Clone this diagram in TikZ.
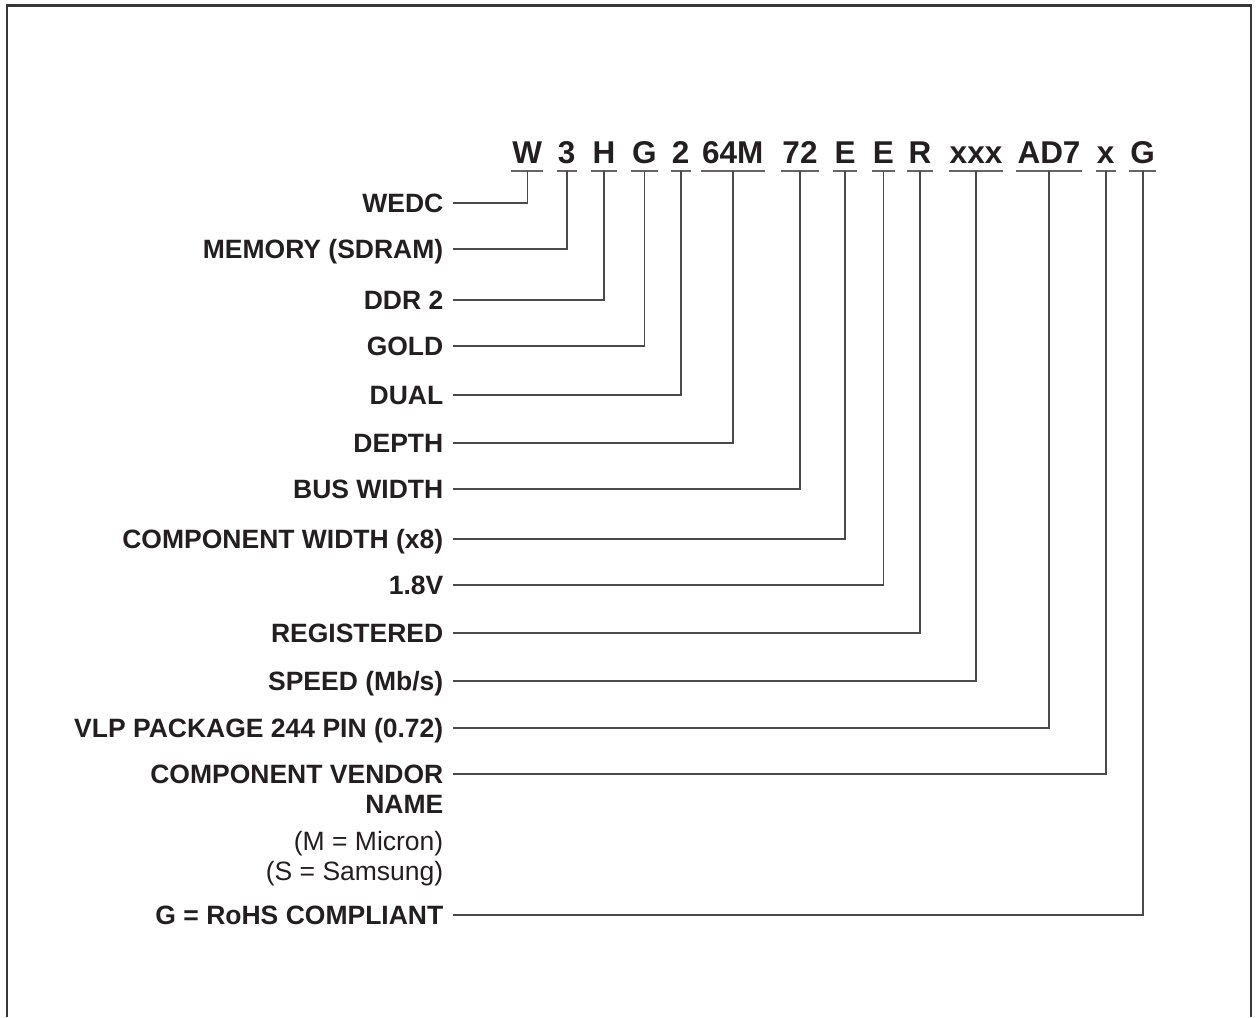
\documentclass[tikz,border=0pt]{standalone}
\usepackage{fontspec}
\setmainfont{Liberation Sans}
\usepackage{tikz}
\usetikzlibrary{positioning,calc}
\usepackage{xcolor}
\definecolor{ink}{HTML}{231F20}
\definecolor{wire}{HTML}{4A4A4A}

\tikzset{
  code/.style={font=\fontsize{31.5}{36}\selectfont\bfseries,text=ink,anchor=base,
    inner xsep=1pt,inner ysep=0pt,text depth=0pt},
  lbl/.style={font=\fontsize{26.5}{30}\selectfont\bfseries,text=ink,anchor=east,
    inner sep=0pt,text height=19pt,text depth=0pt},
  note/.style={font=\fontsize{26.5}{30}\selectfont,text=ink,anchor=base east,inner sep=0pt},
  uline/.style={draw=wire!85,line width=1.9pt},
  conn/.style={draw=wire,line width=1.6pt},
}

\begin{document}
\begin{tikzpicture}[x=1pt,y=-1pt]
\useasboundingbox (0,0) rectangle (1257,1017);
\draw[line width=2.3pt,draw=ink!90] (6.7,1017) |- (1251,5.5) -- (1251,1017);

% part number, one node per field
\foreach \t/\x [count=\i] in {W/527.3,3/566.7,H/604,G/644.3,2/680.7,64M/732.7,72/800,
    E/845,E/883.3,R/920,xxx/976,AD7/1049,x/1105.7,G/1142.7}{
  \node[code] (c\i) at (\x,163) {\t};
  \draw[uline] ([yshift=-7.5pt]c\i.south west) -- ([yshift=-7.5pt]c\i.south east);
}

% field names
\foreach \t/\y [count=\i] in {WEDC/203,MEMORY (SDRAM)/249,DDR 2/300,GOLD/346,DUAL/395,
    DEPTH/443,BUS WIDTH/489,COMPONENT WIDTH (x8)/539,1.8V/585,REGISTERED/633,
    {SPEED (Mb/s)}/681,VLP PACKAGE 244 PIN (0.72)/728,COMPONENT VENDOR/774,
    G = RoHS COMPLIANT/915}{
  \node[lbl] (l\i) at (443.5,\y) {\t};
  \draw[conn] ([xshift=9.5pt]l\i.east) -| ([yshift=-7.5pt]c\i.south);
}

\node[note,font=\fontsize{26.5}{30}\selectfont\bfseries] (vname) at (443.5,813.3) {NAME};
\node[note] (vmic) at (443.5,850) {(M = Micron)};
\node[note] (vsam) at (443.5,880) {(S = Samsung)};
\end{tikzpicture}
\end{document}
